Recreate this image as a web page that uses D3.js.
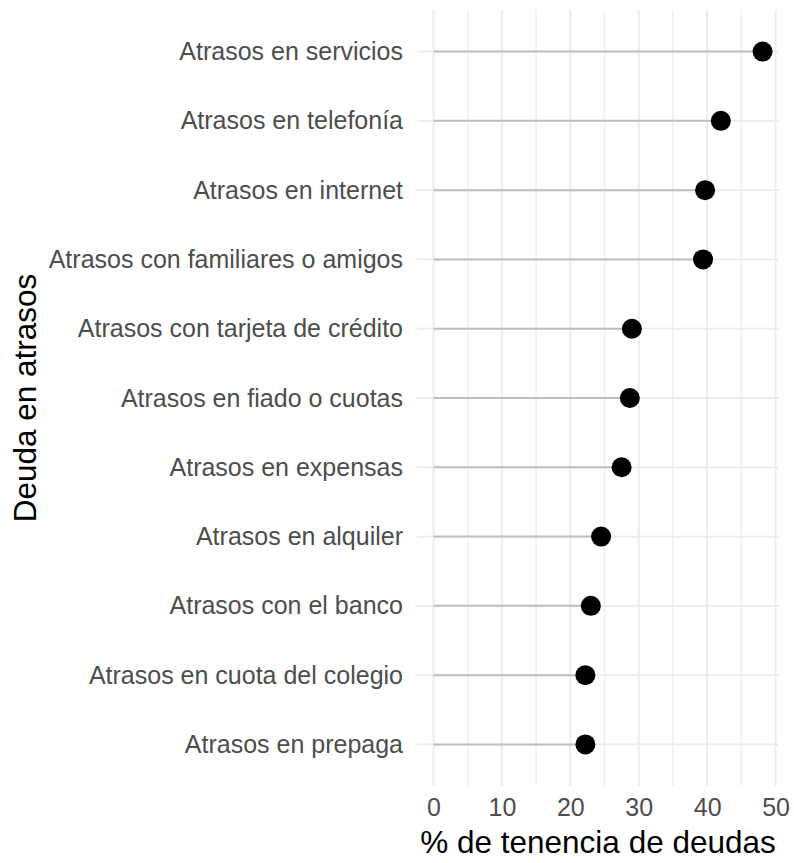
<!DOCTYPE html>
<html>
<head>
<meta charset="utf-8">
<script src="https://cdn.jsdelivr.net/npm/d3@7"></script>
<style>
  body { margin: 0; background: #fff; }
  text { font-family: "Liberation Sans", Arial, sans-serif; }
</style>
</head>
<body>
<div id="vis"></div>
<script>
// data, top row first
var categories = [
  "Atrasos en servicios",
  "Atrasos en telefonía",
  "Atrasos en internet",
  "Atrasos con familiares o amigos",
  "Atrasos con tarjeta de crédito",
  "Atrasos en fiado o cuotas",
  "Atrasos en expensas",
  "Atrasos en alquiler",
  "Atrasos con el banco",
  "Atrasos en cuota del colegio",
  "Atrasos en prepaga"
];
var values = [48.1, 42.0, 39.7, 39.4, 29.0, 28.7, 27.5, 24.5, 23.0, 22.2, 22.2];
var xTicks = [0, 10, 20, 30, 40, 50];
var xMinor = [5, 15, 25, 35, 45];

var width = 794, height = 863;
var panel = { left: 417, right: 779, top: 10, bottom: 786 };

var svg = d3.select("#vis").append("svg")
  .attr("width", width)
  .attr("height", height);

var x = d3.scaleLinear()
  .domain([-2.41, 50.5])
  .range([panel.left, panel.right]);

// discrete y with ggplot-like 0.6 expansion
var y = d3.scalePoint()
  .domain(categories)
  .range([panel.top, panel.bottom])
  .padding(0.6);

var grid = svg.append("g");

grid.selectAll(".minor").data(xMinor).enter().append("line")
  .attr("x1", d => x(d)).attr("x2", d => x(d))
  .attr("y1", panel.top).attr("y2", panel.bottom)
  .attr("stroke", "#efefef").attr("stroke-width", 1.5);

grid.selectAll(".major").data(xTicks).enter().append("line")
  .attr("x1", d => x(d)).attr("x2", d => x(d))
  .attr("y1", panel.top).attr("y2", panel.bottom)
  .attr("stroke", "#ebebeb").attr("stroke-width", 1.8);

grid.selectAll(".hmajor").data(categories).enter().append("line")
  .attr("x1", panel.left).attr("x2", panel.right)
  .attr("y1", d => y(d)).attr("y2", d => y(d))
  .attr("stroke", "#ebebeb").attr("stroke-width", 1.8);

// stems
svg.append("g").selectAll("line").data(categories).enter().append("line")
  .attr("x1", x(0))
  .attr("x2", (d, i) => x(values[i]))
  .attr("y1", d => y(d)).attr("y2", d => y(d))
  .attr("stroke", "#bebebe").attr("stroke-width", 2);

// dots
svg.append("g").selectAll("circle").data(categories).enter().append("circle")
  .attr("cx", (d, i) => x(values[i]))
  .attr("cy", d => y(d))
  .attr("r", 10)
  .attr("fill", "#000");

// y axis labels
var yAxis = d3.axisLeft(y).tickSize(0).tickPadding(14);
svg.append("g")
  .attr("transform", "translate(" + panel.left + ",0)")
  .call(yAxis)
  .call(g => g.select(".domain").remove())
  .selectAll("text")
  .attr("font-size", "25px")
  .attr("font-family", "Liberation Sans, Arial, sans-serif")
  .attr("fill", "#4d4d4d");

// x axis labels
var xAxis = d3.axisBottom(x).tickValues(xTicks).tickSize(0).tickPadding(0);
svg.append("g")
  .attr("transform", "translate(0," + (panel.bottom + 12) + ")")
  .call(xAxis)
  .call(g => g.select(".domain").remove())
  .selectAll("text")
  .attr("dy", "0.71em")
  .attr("font-size", "25px")
  .attr("font-family", "Liberation Sans, Arial, sans-serif")
  .attr("fill", "#4d4d4d");

// axis titles
svg.append("text")
  .attr("x", (panel.left + panel.right) / 2)
  .attr("y", 853)
  .attr("text-anchor", "middle")
  .attr("font-size", "31.5px")
  .attr("fill", "#000")
  .text("% de tenencia de deudas");

svg.append("text")
  .attr("transform", "translate(36," + ((panel.top + panel.bottom) / 2) + ") rotate(-90)")
  .attr("text-anchor", "middle")
  .attr("font-size", "31.5px")
  .attr("fill", "#000")
  .text("Deuda en atrasos");
</script>
</body>
</html>
